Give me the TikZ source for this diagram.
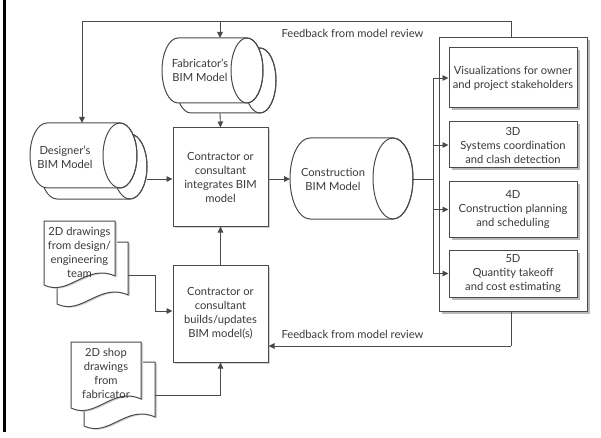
\documentclass[tikz,border=0pt]{standalone}
\usepackage{fontspec}
\setmainfont{Lato}
\usetikzlibrary{arrows.meta,shadows}
\definecolor{ln}{HTML}{4A4A4A}
\definecolor{tx}{HTML}{3A3A3A}
\newcommand\hcyl[5]{%
  \pgfmathsetmacro\cym{(#2+#4)/2}\pgfmathsetmacro\cry{(#4-#2)/2}%
  \draw[cylline] (#1+#5,#2) -- (#3-#5,#2) arc[start angle=-90,end angle=90,x radius=#5,y radius=\cry] -- (#1+#5,#4) arc[start angle=90,end angle=270,x radius=#5,y radius=\cry] -- cycle;
  \draw[cylline,fill=none] (#3-#5,\cym) ellipse[x radius=#5,y radius=\cry];}
\newcommand\docshape[4]{%
  \draw[docline] (#1,#2) -- (#1+#3,#2) -- (#1+#3,#2+#4-9) .. controls (#1+0.6*#3,#2+#4-22) and (#1+0.35*#3,#2+#4+12) .. (#1,#2+#4) -- cycle;}
\begin{document}
\begin{tikzpicture}[x=1pt,y=-1pt,color=ln,line width=1pt,
  txt/.style={text=tx,font=\fontsize{11.2}{14}\selectfont,align=center,inner sep=0pt},
  arr/.style={-{Triangle[length=6pt,width=5.5pt]},line width=0.9pt},
  box/.style={txt,draw=ln,fill=white,line width=1pt},
  shbox/.style={box,drop shadow={shadow xshift=2.5pt,shadow yshift=-2.5pt,fill=gray!55,opacity=1}},
  lshbox/.style={box,drop shadow={shadow xshift=1.5pt,shadow yshift=-1.5pt,fill=gray!35,opacity=1}},
  cylline/.style={draw=ln,fill=white,line width=1pt},
  docline/.style={draw=ln,fill=white,line width=1pt,drop shadow={shadow xshift=2pt,shadow yshift=-1pt,fill=gray!35,opacity=1}}]
\fill[white] (0,0) rectangle (601,438);
\useasboundingbox (0,0) rectangle (601,438);
\fill[black] (3,0) rectangle (6,432);

% right column
\node[shbox,minimum width=148pt,minimum height=273pt] (outer) at (513,174.5) {};
\node[shbox,minimum width=128pt,minimum height=60pt] (b1) at (513,78) {Visualizations for owner\\and project stakeholders};
\node[shbox,minimum width=128pt,minimum height=46pt] (b2) at (513,145) {3D\\Systems coordination\\and clash detection};
\node[shbox,minimum width=128pt,minimum height=55pt] (b3) at (513,209.5) {4D\\Construction planning\\and scheduling};
\node[shbox,minimum width=128pt,minimum height=47pt] (b4) at (513,273.5) {5D\\Quantity takeoff\\and cost estimating};

% central boxes
\node[lshbox,minimum width=95pt,minimum height=98pt] (integ) at (220.5,177) {Contractor or\\consultant\\integrates BIM\\model};
\node[lshbox,minimum width=95pt,minimum height=97pt] (builds) at (220.5,313.5) {Contractor or\\consultant\\builds/updates\\BIM model(s)};

% cylinders
\hcyl{40}{134}{147}{199}{17}
\hcyl{30}{123}{137}{188}{17}
\node[txt] (desg) at (65,157.5) {Designer's\\BIM Model};
\hcyl{175}{48}{276}{113}{16}
\hcyl{162}{38}{263}{103}{16}
\node[txt] (fab) at (200,70) {Fabricator's\\BIM Model};
\hcyl{290}{138}{413}{219}{20}
\node[txt] (cons) at (333,179.5) {Construction\\BIM Model};

% documents
\docshape{57}{242}{71}{62}
\docshape{44}{221}{71}{64}
\node[txt] (d1) at (79.5,252.5) {2D drawings\\from design/\\engineering\\team};
\docshape{84}{362}{71}{64}
\docshape{71}{342}{70}{66}
\node[txt] (d2) at (106,373.5) {2D shop\\drawings\\from\\fabricator};

% anchor coordinates on the drawn shapes
\coordinate (desT) at (82,123);
\coordinate (desE) at (147,179);
\coordinate (fabT) at (220,38);
\coordinate (fabB) at (220,113);
\coordinate (conW) at (290,179);
\coordinate (conE) at (413,179);
\coordinate (bus) at (433,179);
\coordinate (fbT) at (511,21);
\coordinate (fbB) at (511,346);
\coordinate (d1E) at (128,275);
\coordinate (d2E) at (155,395);
\coordinate (d1K) at (155,275);

% connectors
\draw[line width=0.9pt] (outer.north -| fbT) -- (fbT);
\draw[arr] (fbT) -| (desT);
\draw[arr] (fbT -| fabT) -- (fabT);
\draw[arr] (fabB) -- (integ.north);
\draw[arr] (desE) -- (integ.west |- desE);
\draw[arr] (integ.east |- conW) -- (conW);
\draw[line width=0.9pt] (conE) -- (bus);
\draw[line width=0.9pt] (bus |- b1.west) -- (bus |- b4.west);
\draw[arr] (bus |- b1.west) -- (b1.west);
\draw[arr] (bus |- b2.west) -- (b2.west);
\draw[arr] (bus |- b3.west) -- (b3.west);
\draw[arr] (bus |- b4.west) -- (b4.west);
\draw[arr] (builds.north) -- (integ.south);
\draw[line width=0.9pt] (outer.south -| fbB) -- (fbB);
\draw[arr] (fbB) -- (builds.east |- fbB);
\draw[arr] (d1E) -- (d1K) |- ([yshift=2.5pt]builds.west);
\draw[arr] (d2E) -| (builds.south);

\node[txt,anchor=west] (fbl1) at (281,33) {Feedback from model review};
\node[txt,anchor=west] (fbl2) at (281,334) {Feedback from model review};
\end{tikzpicture}
\end{document}
